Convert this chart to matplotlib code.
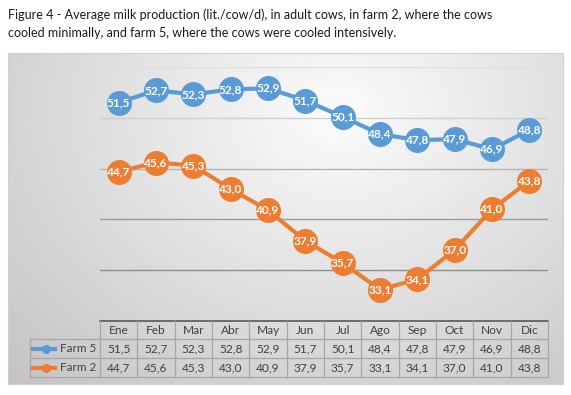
import numpy as np
import matplotlib
matplotlib.use("Agg")
import matplotlib.pyplot as plt
from matplotlib.lines import Line2D
import matplotlib.transforms as mtransforms

plt.rcParams['font.family'] = ['Lato', 'DejaVu Sans']

# data
months = ['Ene', 'Feb', 'Mar', 'Abr', 'May', 'Jun', 'Jul', 'Ago', 'Sep', 'Oct', 'Nov', 'Dic']
farm5 = [51.5, 52.7, 52.3, 52.8, 52.9, 51.7, 50.1, 48.4, 47.8, 47.9, 46.9, 48.8]
farm2 = [44.7, 45.6, 45.3, 43.0, 40.9, 37.9, 35.7, 33.1, 34.1, 37.0, 41.0, 43.8]
series_names = ['Farm 5', 'Farm 2']
title_lines = ['Figure 4 - Average milk production (lit./cow/d), in adult cows, in farm 2, where the cows',
               'cooled minimally, and farm 5, where the cows were cooled intensively.']

blue = '#5b9bd5'
orange = '#ed7d31'
W, H = 571, 395

fig = plt.figure(figsize=(W / 100, H / 100), dpi=100)

# title
fig.text(8 / W, 1 - 15 / H, title_lines[0], fontsize=9.0, va='center', ha='left', color='#1a1a1a')
fig.text(8 / W, 1 - 33 / H, title_lines[1], fontsize=9.0, va='center', ha='left', color='#1a1a1a')

# chart area with gray gradient
bg = fig.add_axes([8 / W, 1 - 384 / H, 555 / W, 331 / H], zorder=0)
yy, xx = np.mgrid[0:331, 0:555]
dx = (xx - 330) / 1.25
dy = (yy - 60)
dist = np.sqrt(dx ** 2 + dy ** 2)
shade = np.clip(252 - dist * 0.15, 196, 252) / 255.0
bg.imshow(np.dstack([shade, shade, shade]), aspect='auto', extent=[0, 1, 0, 1], origin='upper')
bg.set_xlim(0, 1)
bg.set_ylim(0, 1)
bg.set_xticks([])
bg.set_yticks([])
for s in bg.spines.values():
    s.set_color('#d0d0d0')
    s.set_linewidth(0.8)

# plot area
ax = fig.add_axes([100 / W, 1 - 321 / H, 448 / W, 254 / H], zorder=1)
ax.patch.set_alpha(0)
ax.set_xlim(-0.5, len(months) - 0.5)
ax.set_ylim(30, 55)
ax.set_yticks([35, 40, 45, 50, 55])
ax.set_xticks([])
ax.tick_params(left=False, labelleft=False)
for s in ax.spines.values():
    s.set_visible(False)
ax.yaxis.grid(True, linewidth=1.0)
grid_cols = ['#8e8e8e', '#9a9a9a', '#b4b4b4', '#cfcfcf', '#dedede']
for gl, c in zip(ax.get_ygridlines(), grid_cols):
    gl.set_color(c)
ax.set_axisbelow(True)

x = np.arange(len(months))
for vals, col in [(farm5, blue), (farm2, orange)]:
    ax.plot(x, vals, color=col, linewidth=3, marker='o', markersize=17,
            markeredgecolor=col, zorder=3)
    for xi, v in zip(x, vals):
        ax.text(xi, v, ('%.1f' % v).replace('.', ','), color='white', fontsize=8.6,
                fontweight='bold', ha='center', va='center', zorder=4)

# data table under the plot
trans = mtransforms.blended_transform_factory(ax.transData, ax.transAxes)
row_y = [0, -18 / 254, -37.3 / 254, -55.7 / 254]
lab_x = -70 / 448
cell_col = '#a6a6a6'
ax.plot([0, 1], [0, 0], transform=ax.transAxes, color='#595959', lw=1.2, clip_on=False, zorder=2)
for yv in row_y[1:]:
    ax.plot([lab_x, 1], [yv, yv], transform=ax.transAxes, color=cell_col, lw=0.9, clip_on=False)
for i in range(len(months) + 1):
    ax.plot([i - 0.5, i - 0.5], [0, row_y[-1]], transform=trans, color=cell_col, lw=0.9, clip_on=False)
ax.plot([lab_x, lab_x], [row_y[1], row_y[-1]], transform=ax.transAxes, color=cell_col, lw=0.9, clip_on=False)

txt_col = '#404040'
for i, m in enumerate(months):
    ax.text(i, (row_y[0] + row_y[1]) / 2, m, transform=trans, ha='center', va='center',
            fontsize=8.6, color=txt_col, clip_on=False)
for r, (vals, name, col) in enumerate([(farm5, series_names[0], blue), (farm2, series_names[1], orange)]):
    yc = (row_y[r + 1] + row_y[r + 2]) / 2
    for i, v in enumerate(vals):
        ax.text(i, yc, ('%.1f' % v).replace('.', ','), transform=trans, ha='center', va='center',
                fontsize=8.6, color=txt_col, clip_on=False)
    ax.text(-4 / 448, yc, name, transform=ax.transAxes, ha='right', va='center',
            fontsize=8.4, color=txt_col, clip_on=False)
    ax.add_line(Line2D([-67 / 448, -45 / 448], [yc, yc], transform=ax.transAxes, color=col,
                       lw=3, clip_on=False))
    ax.add_line(Line2D([-54 / 448], [yc], transform=ax.transAxes, color=col,
                       marker='o', markersize=5.5, clip_on=False))

fig.savefig('out.png', dpi=100)
